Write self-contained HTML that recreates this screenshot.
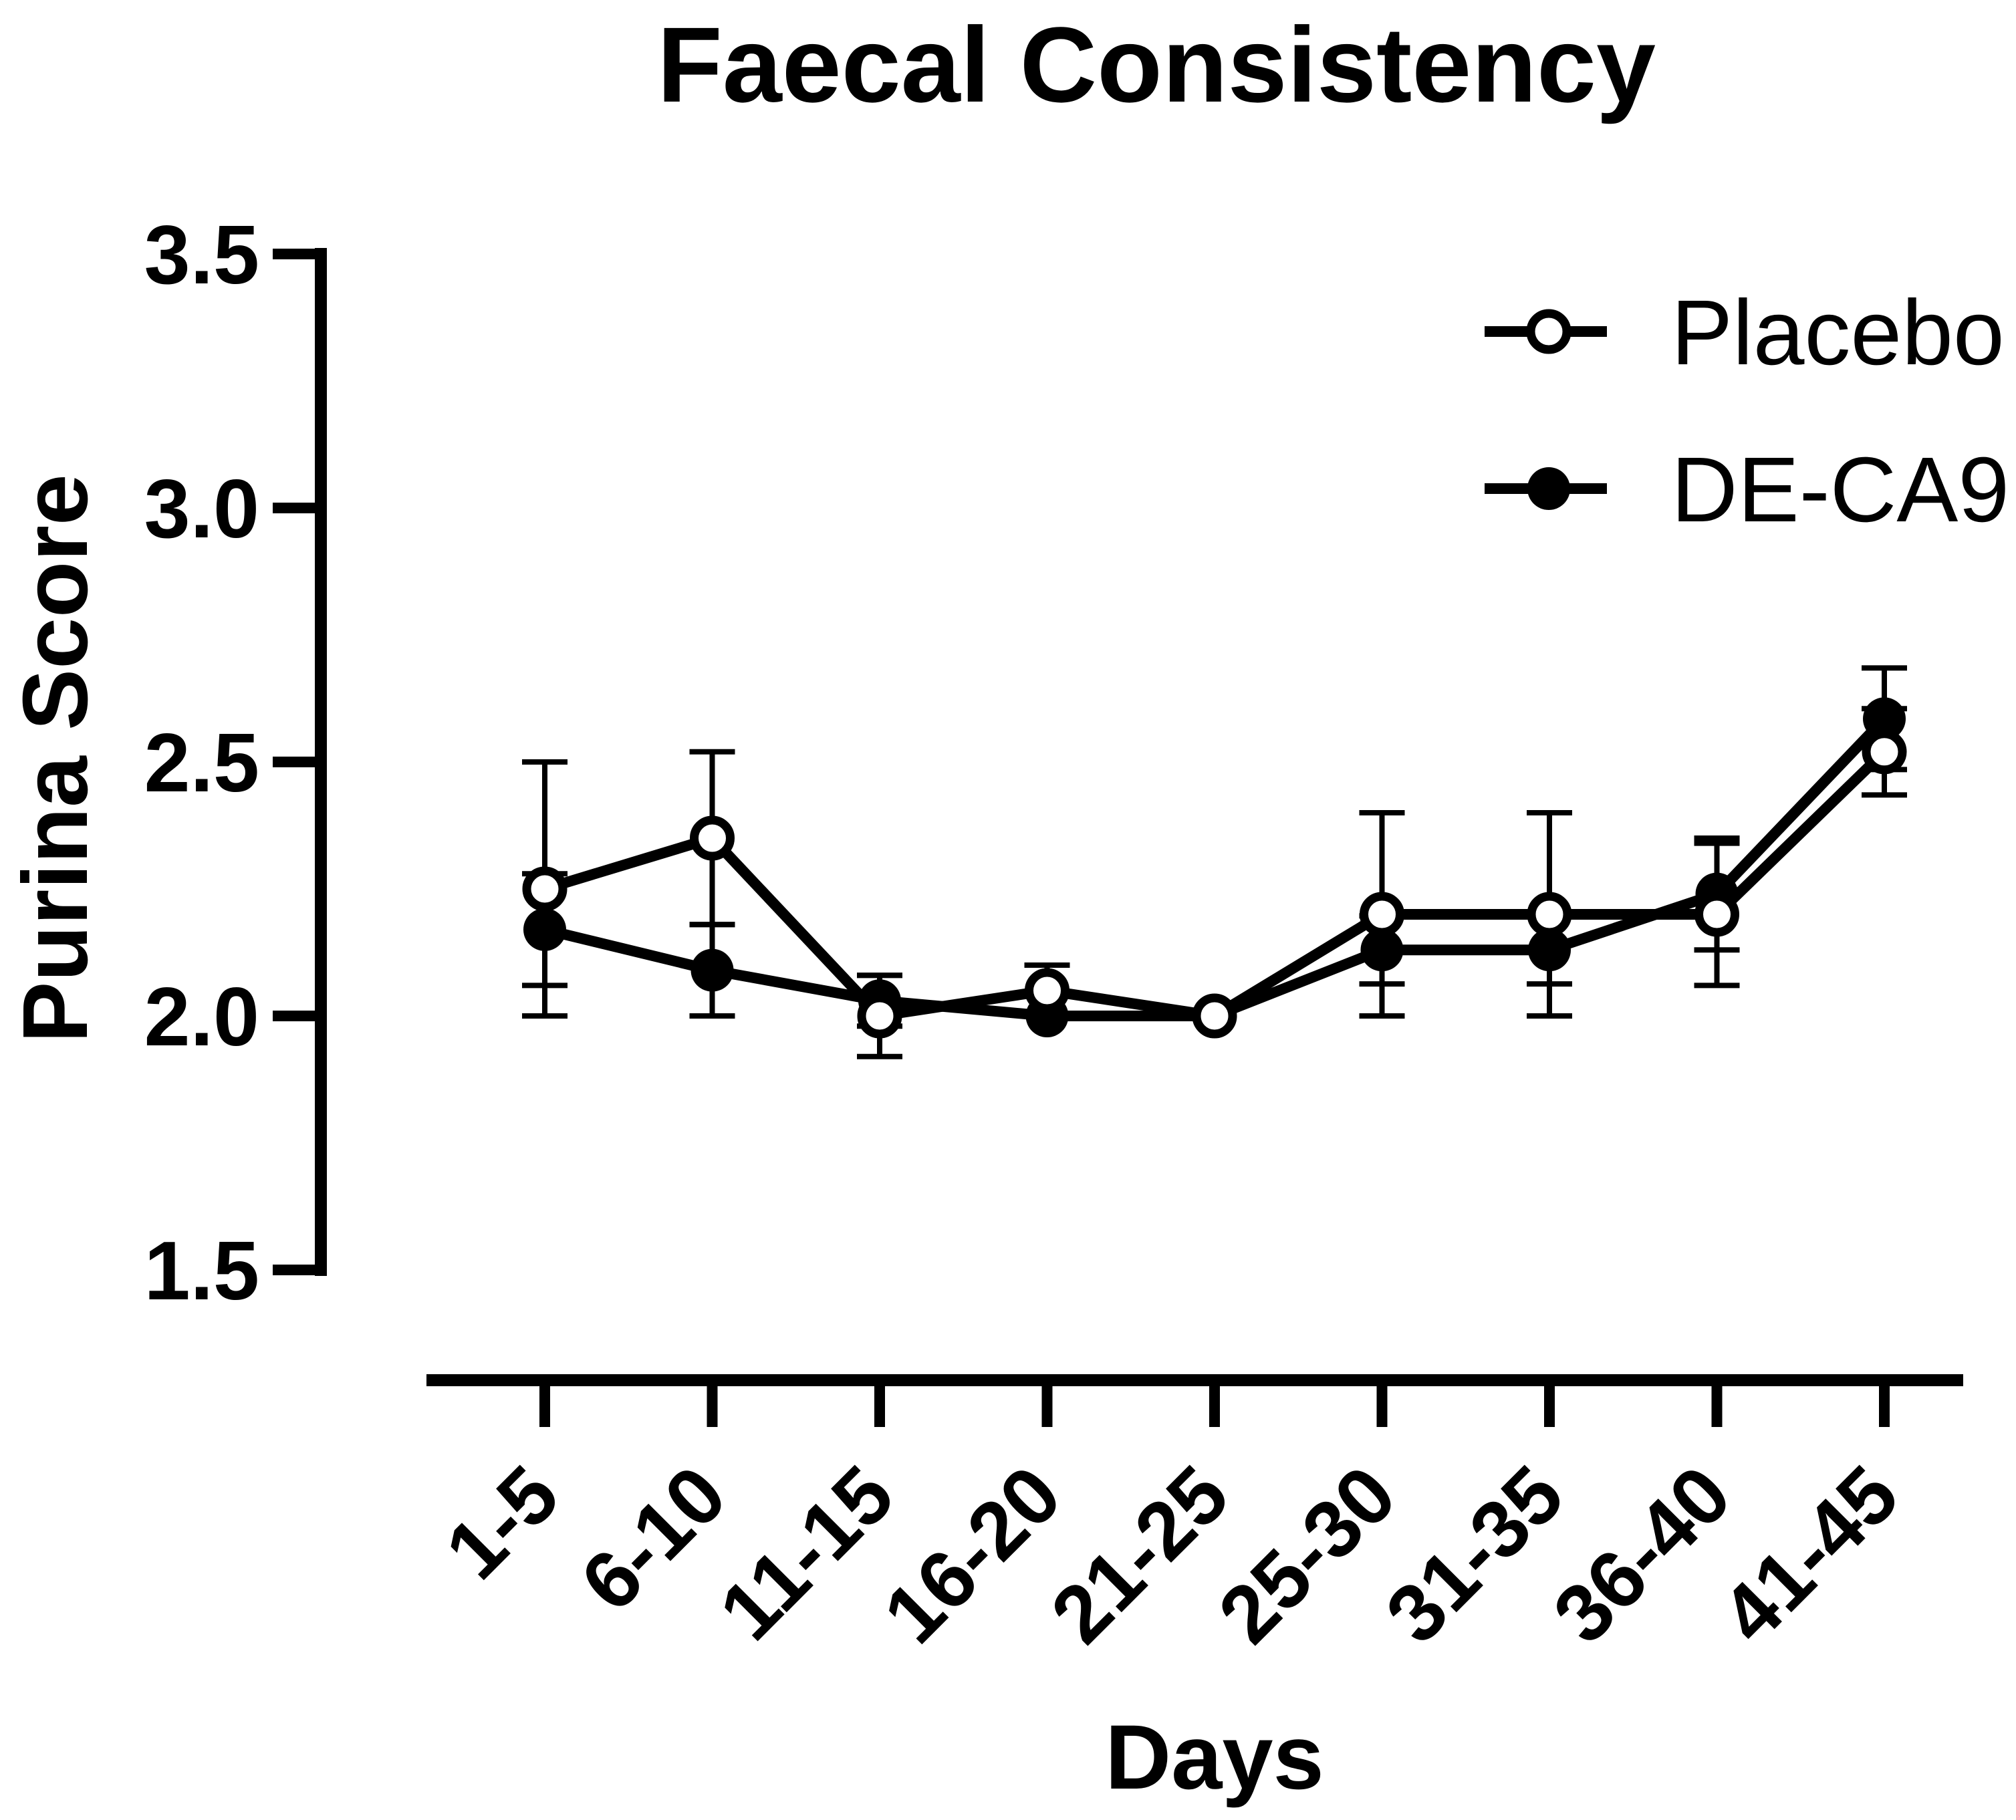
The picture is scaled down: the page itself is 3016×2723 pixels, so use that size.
<!DOCTYPE html>
<html><head><meta charset="utf-8"><style>
html,body{margin:0;padding:0;background:#fff;}
svg{display:block;font-family:"Liberation Sans",Arial,sans-serif;}
</style></head><body>
<svg id="chart" width="3016" height="2723" viewBox="0 0 3016 2723" xmlns="http://www.w3.org/2000/svg">
<text x="1730" y="152" font-size="160" font-weight="bold" text-anchor="middle">Faecal Consistency</text>
<text transform="translate(130,1135) rotate(-90)" font-size="138" font-weight="bold" text-anchor="middle">Purina Score</text>
<text x="1817" y="2676" font-size="137" font-weight="bold" text-anchor="middle">Days</text>
<g id="axes"></g>
<g id="series"></g>
<g id="legend"></g>
</svg>
<script>
const categories = ["1-5","6-10","11-15","16-20","21-25","25-30","31-35","36-40","41-45"];
const placeboValues = [2.25,2.35,2.0,2.05,2.0,2.2,2.2,2.2,2.52];
const placeboErrors = [0.25,0.17,0.08,0.05,0,0.2,0.2,0.14,0.085];
const decaValues = [2.17,2.09,2.03,2.0,2.0,2.13,2.13,2.24,2.585];
const decaErrors = [0.11,0.09,0.05,0,0,0.067,0.067,0.11,0.1];
const yTicks = [1.5,2.0,2.5,3.0,3.5];
const yTickLabels = ["1.5","2.0","2.5","3.0","3.5"];

const NS = "http://www.w3.org/2000/svg";
function yScale(v){ return 1520 - (v - 2.0) * 760; }
function xScale(i){ return 815 + i * 250.5; }
function mk(tag, attrs, parent){ const e = document.createElementNS(NS, tag); for (const k in attrs) e.setAttribute(k, attrs[k]); parent.appendChild(e); return e; }

const axes = document.getElementById('axes');
let el = mk('line',{x1:480,y1:yScale(3.5)-9,x2:480,y2:yScale(1.5)+9,stroke:'#000','stroke-width':18},axes);


yTicks.forEach((t,i)=>{
  const y = yScale(t);
  const l = mk('line',{x1:408,y1:y,x2:480,y2:y,stroke:'#000','stroke-width':16},axes);
  
  
  const tx = mk('text',{x:388,y:y+44,'font-size':124,'font-weight':'bold','text-anchor':'end'},axes);
  tx.textContent = yTickLabels[i];
  
  
});
el = mk('line',{x1:638,y1:2065,x2:2937,y2:2065,stroke:'#000','stroke-width':18},axes);


categories.forEach((c,i)=>{
  const x = xScale(i);
  const l = mk('line',{x1:x,y1:2065,x2:x,y2:2135,stroke:'#000','stroke-width':16},axes);
  
  
  const tx = mk('text',{transform:`translate(${x+28},2245) rotate(-45)`,'font-size':122,'font-weight':'bold','text-anchor':'end'},axes);
  tx.textContent = c;
  
  
});

const series = document.getElementById('series');
function drawErr(vals, errs, name){
  vals.forEach((v,i)=>{
    if(!errs[i]) return;
    const x = xScale(i), y1 = yScale(v+errs[i]), y2 = yScale(v-errs[i]);
    const g = mk('g',{stroke:'#000','stroke-width':8},series);
    
    
    mk('line',{x1:x,y1:y1,x2:x,y2:y2},g);
    mk('line',{x1:x-34,y1:y1,x2:x+34,y2:y1},g);
    mk('line',{x1:x-34,y1:y2,x2:x+34,y2:y2},g);
  });
}
drawErr(placeboValues, placeboErrors, 'placebo');
drawErr(decaValues, decaErrors, 'deca9');
function drawLine(vals, name){
  const p = mk('polyline',{points:vals.map((v,i)=>xScale(i)+','+yScale(v)).join(' '),fill:'none',stroke:'#000','stroke-width':16,'stroke-linejoin':'round'},series);
  
  
}
function drawMarkers(vals, name, filled){
  vals.forEach((v,i)=>{
    const c = mk('circle',{cx:xScale(i),cy:yScale(v),r:filled?32:27,fill:filled?'#000':'#fff',stroke:'#000','stroke-width':filled?0:13},series);
    
    
  });
}
drawLine(decaValues,'deca9');
drawLine(placeboValues,'placebo');
drawMarkers(decaValues,'deca9',true);
drawMarkers(placeboValues,'placebo',false);

const legend = document.getElementById('legend');
function legendEntry(y, label, filled, name){
  const g = mk('g',{},legend);
  
  
  mk('line',{x1:2221,y1:y,x2:2404,y2:y,stroke:'#000','stroke-width':16},g);
  mk('circle',{cx:2317,cy:y,r:filled?32:27,fill:filled?'#000':'#fff',stroke:'#000','stroke-width':filled?0:13},g);
  const t = mk('text',{x:2500,y:y+49,'font-size':138},g);
  t.textContent = label;
}
legendEntry(496,'Placebo',false,'legend-entry-placebo');
legendEntry(731,'DE-CA9',true,'legend-entry-deca9');
</script>
</body></html>
